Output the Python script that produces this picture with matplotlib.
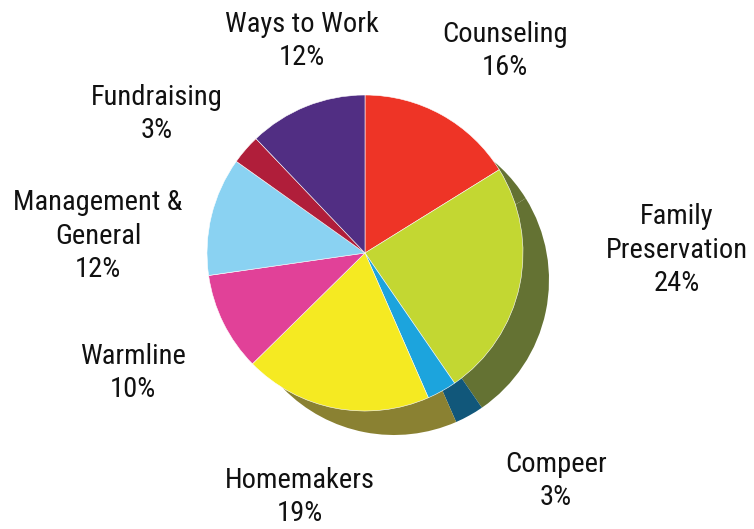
import matplotlib.pyplot as plt

# chart data
programs = ['Counseling', 'Family\nPreservation', 'Compeer', 'Homemakers',
            'Warmline', 'Management &\nGeneral', 'Fundraising', 'Ways to Work']
shares = [16, 24, 3, 19, 10, 12, 3, 12]
colors = ['#EE3426', '#C3D732', '#1CA4DD', '#F5EA22',
          '#E14198', '#8AD2F2', '#B01E3A', '#512E83']
# side / depth colours (counseling side is hidden behind family preservation)
shadow_colors = ['#647233', '#647233', '#11577A', '#8A8132',
                 '#80265A', '#4F7A8C', '#661425', '#2E1A4C']

# label centres in pixels (from top-left)
label_pos = [(505, 51), (677, 250), (556, 481), (300, 497),
             (133, 373), (98, 236), (157, 114), (302, 41)]

W, H = 754, 529
fig = plt.figure(figsize=(W / 100, H / 100), dpi=100)
ax = fig.add_axes([0, 0, 1, 1])

cx, cy, r = 365, H - 253, 158

# shadow pie, shifted down-right
ax.pie(shares, colors=shadow_colors, startangle=90, counterclock=False,
       center=(cx + 29, cy - 27), radius=155, frame=True,
       wedgeprops={'linewidth': 0})
# main pie
ax.pie(shares, colors=colors, startangle=90, counterclock=False,
       center=(cx, cy), radius=r, frame=True,
       wedgeprops={'linewidth': 0.4, 'edgecolor': 'white'})

for name, val, (px, py) in zip(programs, shares, label_pos):
    ax.text(px, H - py, f"{name}\n{val}%", ha='center', va='center',
            fontsize=20.5, linespacing=1.3, color='#111111',
            family=['Roboto Condensed', 'DejaVu Sans'], fontstretch='condensed')

ax.set_xlim(0, W)
ax.set_ylim(0, H)
ax.set_aspect('equal')
ax.axis('off')
fig.savefig('out.png', dpi=100)
